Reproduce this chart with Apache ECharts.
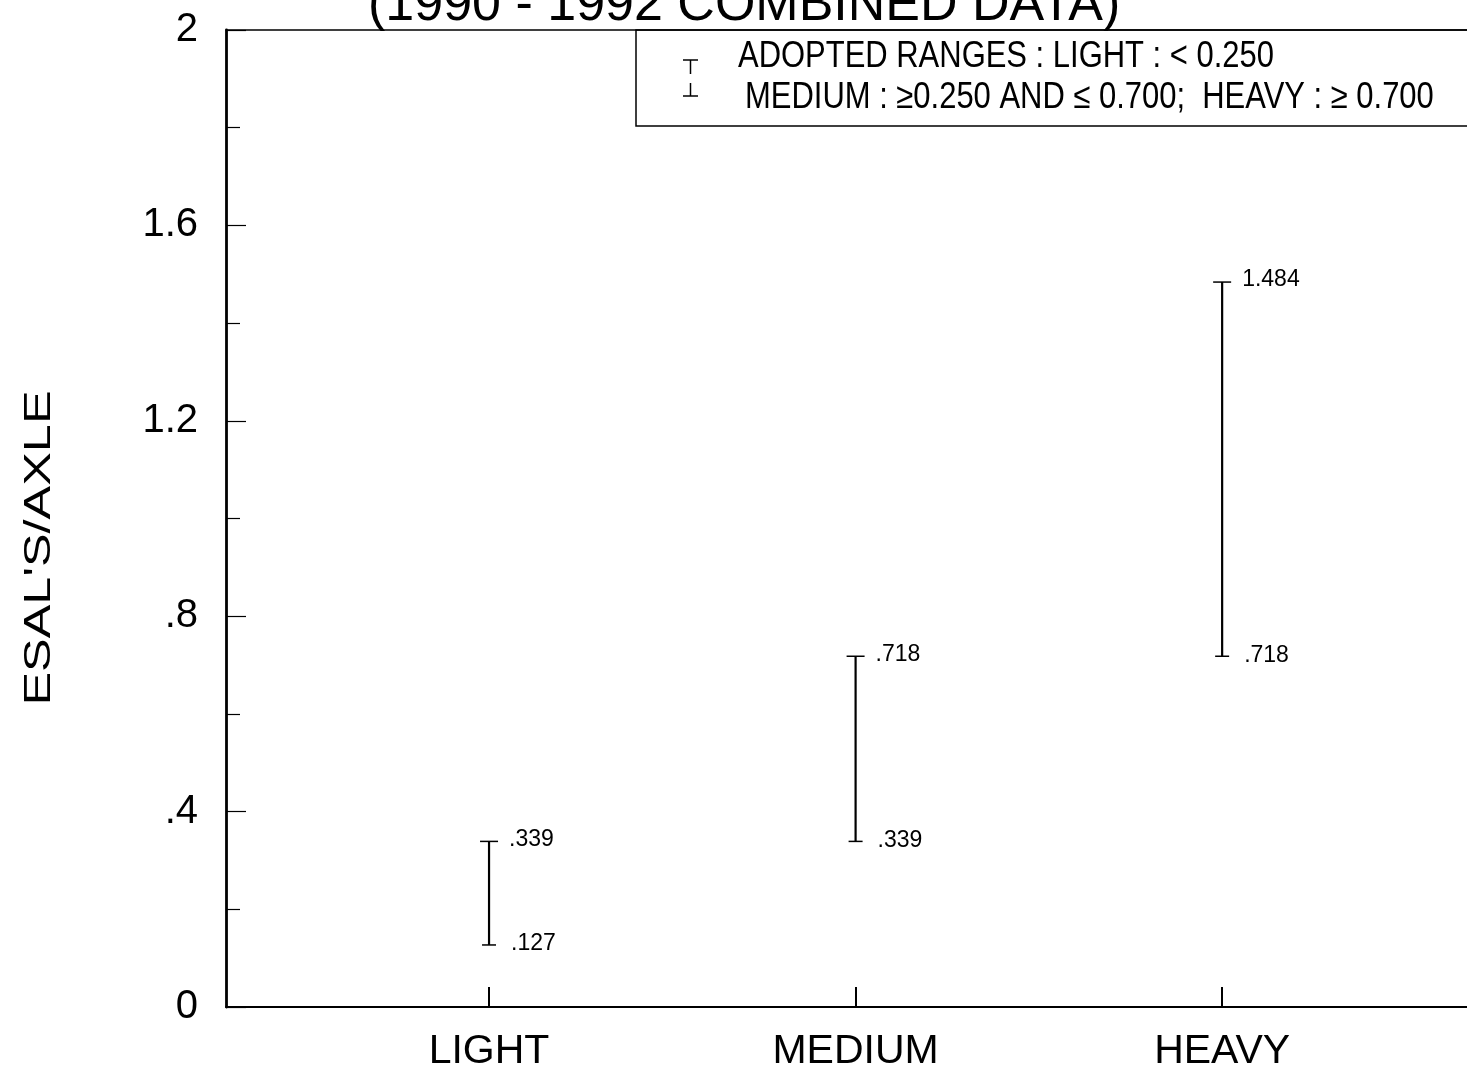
<!DOCTYPE html>
<html>
<head>
<meta charset="utf-8">
<script src="https://cdn.jsdelivr.net/npm/echarts@6/dist/echarts.min.js"></script>
<style>
html,body{margin:0;padding:0;background:#fff;}
#chart{width:1467px;height:1075px;}
</style>
</head>
<body>
<div id="chart"></div>
<script>
// ---- data ----
const categories = ['LIGHT', 'MEDIUM', 'HEAVY'];
const lowValues = [0.127, 0.339, 0.718];
const highValues = [0.339, 0.718, 1.484];
const yTickValues = [0, 0.4, 0.8, 1.2, 1.6, 2];
const yTickLabels = ['0', '.4', '.8', '1.2', '1.6', '2'];
const titleText = '(1990 - 1992 COMBINED DATA)';
const yAxisTitle = "ESAL'S/AXLE";
const legendLine1 = 'ADOPTED RANGES : LIGHT : < 0.250';
const legendLine2 = 'MEDIUM : \u22650.250 AND \u2264 0.700;  HEAVY : \u2265 0.700';

const FONT = 'Liberation Sans, Arial, Helvetica, sans-serif';

function fmt(v) { return v.toFixed(3).replace(/^0/, ''); }

const seriesData = categories.map((c, i) => [i + 1, lowValues[i], highValues[i]]);

const chart = echarts.init(document.getElementById('chart'), null, {renderer: 'canvas'});

const option = {
  backgroundColor: '#ffffff',
  animation: false,
  title: {
    text: titleText,
    left: 368, top: -20, padding: 0,
    textStyle: {fontFamily: FONT, fontSize: 52, fontWeight: 'normal', color: '#000'}
  },
  grid: {left: 226, right: 0, top: 30, bottom: 68, containLabel: false},
  xAxis: [{
    type: 'value',
    min: 0.2824, max: 3.668,
    position: 'bottom',
    axisLine: {show: true, onZero: false, lineStyle: {color: '#000', width: 2}},
    splitLine: {show: false},
    axisTick: {show: true, inside: true, length: 20, customValues: [1, 2, 3], lineStyle: {color: '#000', width: 2}},
    axisLabel: {
      show: true, customValues: [1, 2, 3], margin: 24,
      formatter: v => categories[Math.round(v) - 1] || '',
      fontFamily: FONT, fontSize: 41, color: '#000'
    }
  }, {
    type: 'value',
    min: 0.2824, max: 3.668,
    position: 'top',
    axisLine: {show: true, onZero: false, lineStyle: {color: '#000', width: 1.5}},
    splitLine: {show: false}, axisTick: {show: false}, axisLabel: {show: false}
  }],
  yAxis: {
    type: 'value',
    min: 0, max: 2, interval: 0.4,
    axisLine: {show: true, onZero: false, lineStyle: {color: '#000', width: 2.8}},
    splitLine: {show: false},
    axisTick: {show: true, inside: true, length: 20, lineStyle: {color: '#000', width: 1.2}},
    minorTick: {show: true, splitNumber: 2, length: 14, lineStyle: {color: '#000', width: 1.2}},
    axisLabel: {
      margin: 28,
      formatter: v => { const k = yTickValues.findIndex(t => Math.abs(t - v) < 1e-6); return k >= 0 ? yTickLabels[k] : ''; },
      fontFamily: FONT, fontSize: 40, color: '#000'
    }
  },
  series: [{
    type: 'custom',
    xAxisIndex: 0,
    data: seriesData,
    encode: {x: 0, y: [1, 2]},
    renderItem: function (params, api) {
      const x = api.value(0);
      const lo = api.coord([x, api.value(1)]);
      const hi = api.coord([x, api.value(2)]);
      const cx = lo[0];
      return {
        type: 'group',
        children: [
          {type: 'line', shape: {x1: cx, y1: hi[1], x2: cx, y2: lo[1]}, style: {stroke: '#000', lineWidth: 2.2}},
          {type: 'line', shape: {x1: cx - 9, y1: hi[1], x2: cx + 9, y2: hi[1]}, style: {stroke: '#000', lineWidth: 1.5}},
          {type: 'line', shape: {x1: cx - 7, y1: lo[1], x2: cx + 7, y2: lo[1]}, style: {stroke: '#000', lineWidth: 1.5}},
          {type: 'text', style: {x: cx + 20, y: hi[1] - 2, text: fmt(api.value(2)), fontFamily: FONT, fontSize: 23, fill: '#000', align: 'left', verticalAlign: 'middle'}},
          {type: 'text', style: {x: cx + 22, y: lo[1] - 1, text: fmt(api.value(1)), fontFamily: FONT, fontSize: 23, fill: '#000', align: 'left', verticalAlign: 'middle'}}
        ]
      };
    }
  }],
  graphic: [
    {type: 'rect', shape: {x: 636, y: 30, width: 900, height: 96}, style: {fill: 'none', stroke: '#000', lineWidth: 1.5}, z: 10},
    {type: 'text', x: 738, y: 57, scaleX: 0.86, style: {x: 0, y: 0, text: legendLine1, fontFamily: FONT, fontSize: 36, fill: '#000', align: 'left', verticalAlign: 'middle'}, z: 10},
    {type: 'text', x: 745, y: 98, scaleX: 0.86, style: {x: 0, y: 0, text: legendLine2, fontFamily: FONT, fontSize: 36, fill: '#000', align: 'left', verticalAlign: 'middle'}, z: 10},
    {type: 'line', shape: {x1: 683, y1: 60, x2: 698, y2: 60}, style: {stroke: '#000', lineWidth: 1.5}, z: 10},
    {type: 'line', shape: {x1: 690.5, y1: 60, x2: 690.5, y2: 74}, style: {stroke: '#000', lineWidth: 1.5}, z: 10},
    {type: 'line', shape: {x1: 690.5, y1: 83, x2: 690.5, y2: 96}, style: {stroke: '#000', lineWidth: 1.5}, z: 10},
    {type: 'line', shape: {x1: 683, y1: 96, x2: 698, y2: 96}, style: {stroke: '#000', lineWidth: 1.5}, z: 10},
    {type: 'text', rotation: Math.PI / 2, x: 40, y: 548, scaleX: 1.4, style: {x: 0, y: 0, text: yAxisTitle, fontFamily: FONT, fontSize: 36, fill: '#000', align: 'center', verticalAlign: 'middle'}}
  ]
};
chart.setOption(option);
</script>
</body>
</html>
